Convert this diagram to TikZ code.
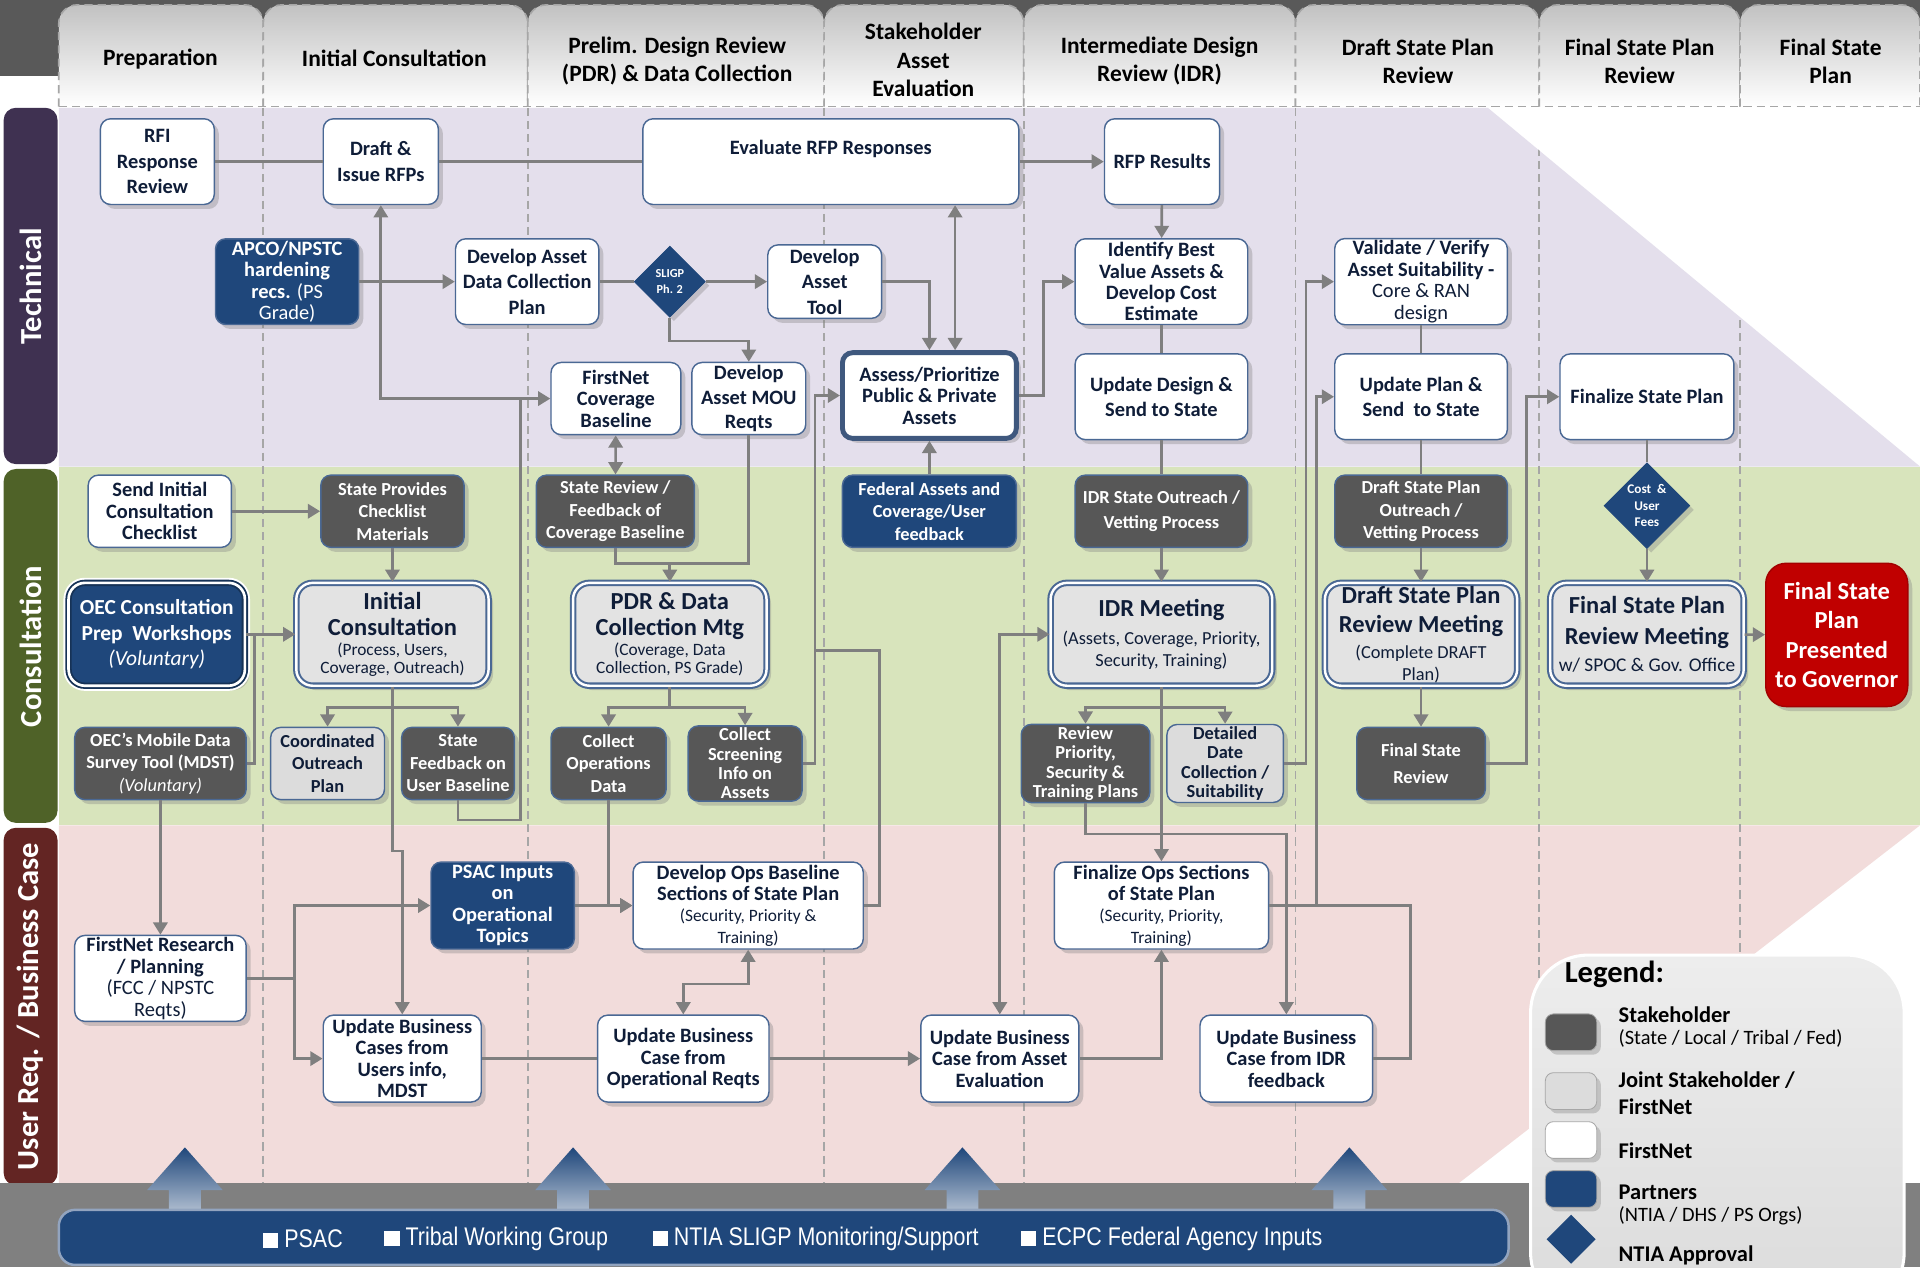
\documentclass[tikz,border=0pt]{standalone}
\usepackage{fontspec}
\setmainfont{Carlito}
\newfontfamily\barfont[FakeStretch=0.84]{Liberation Sans}
\usepackage{tikz}
\usetikzlibrary{arrows.meta,shapes.geometric,shadows}

\definecolor{fntext}{HTML}{0F1D38}
\definecolor{boxline}{HTML}{4A6894}
\definecolor{shfill}{HTML}{575757}
\definecolor{jtfill}{HTML}{DCDCDC}
\definecolor{ptfill}{HTML}{1F477B}
\definecolor{techbg}{HTML}{E4DFEC}
\definecolor{techbar}{HTML}{3F3151}
\definecolor{consbg}{HTML}{D8E4BC}
\definecolor{consbar}{HTML}{4F6228}
\definecolor{userbg}{HTML}{F2DCDB}
\definecolor{userbar}{HTML}{632523}
\definecolor{govred}{HTML}{C00000}
\definecolor{conn}{HTML}{7F7F7F}
\definecolor{sepline}{HTML}{A6A6A6}

\newcommand{\mtgtitle}{\fontsize{12}{13}\selectfont\bfseries}
\newcommand{\subline}{\fontsize{8.5}{9}\selectfont\mdseries}

\begin{document}
\begin{tikzpicture}[x=0.6pt,y=-0.6pt,>={Triangle[length=6pt,width=7pt]},
    card/.style={rectangle,rounded corners=5pt,align=center,inner sep=1pt,line width=0.7pt,
      draw=boxline,drop shadow={shadow xshift=2.2pt,shadow yshift=-2.2pt,opacity=.35}},
    fn node/.style={card,fill=white,text=fntext,font=\fontsize{10}{10.5}\selectfont\bfseries},
    sh node/.style={card,fill=shfill,text=white,font=\fontsize{9}{11}\selectfont\bfseries},
    jt node/.style={card,fill=jtfill,text=fntext,font=\fontsize{9}{11}\selectfont\bfseries},
    pt node/.style={card,fill=ptfill,text=white,font=\fontsize{9}{11}\selectfont\bfseries},
    mtg node/.style={card,fill=jtfill!80!white,text=fntext,rounded corners=8pt,line width=1pt,
      double=white,double distance=1.2pt,font=\fontsize{8.5}{8.5}\selectfont},
    gov node/.style={card,rounded corners=10pt,fill=govred,draw=govred!85!black,text=white,
      font=\fontsize{12}{14.4}\selectfont\bfseries},
    ok node/.style={diamond,aspect=1,fill=ptfill,draw=ptfill,text=white,inner sep=0pt,align=center,
      drop shadow={shadow xshift=2pt,shadow yshift=-2pt,opacity=.35}},
    box size/.style 2 args={minimum width=#1*0.6pt,minimum height=#2*0.6pt},
    link/.style={draw=conn,line width=1.3pt},
    sepdash/.style={draw=sepline,line width=0.8pt,dash pattern=on 4pt off 2.5pt},
    phase/.style={align=center,text=black,font=\fontsize{11.5}{14}\selectfont\bfseries},
    lane label/.style={rotate=90,text=white,font=\fontsize{15}{15}\selectfont\bfseries},
    bar label/.style={anchor=west,text=white,font=\barfont\fontsize{12.5}{14}\selectfont},
    legend text/.style={anchor=west,text=black,font=\fontsize{11}{12}\selectfont\bfseries}]

  \useasboundingbox (0,0) rectangle (1568,1035);
  \clip (0,0) rectangle (1568,1035);
  \fill[white] (0,0) rectangle (1568,1035);
  \fill[black!65] (0,0) rectangle (1568,62);

  \foreach \xa/\xb in {48/215,215/431,431/673,673/836,836/1058,1058/1257,1257/1421,1421/1568} {
    \shade[top color=black!24,bottom color=white,rounded corners=9pt] (\xa,87) -- (\xa,4) -- (\xb,4) -- (\xb,87);
    \draw[sepdash,rounded corners=9pt] (\xa,87) -- (\xa,4) -- (\xb,4) -- (\xb,87);
  }
  \draw[sepdash] (48,87) -- (1568,87);

  \node[phase] (ph1) at (131,48) {Preparation};
  \node[phase] (ph2) at (322,48) {Initial Consultation};
  \node[phase] (ph3) at (553,50) {Prelim. Design Review\\(PDR) \& Data Collection};
  \node[phase] (ph4) at (754,49) {Stakeholder\\Asset\\Evaluation};
  \node[phase] (ph5) at (947,50) {Intermediate Design\\Review (IDR)};
  \node[phase] (ph6) at (1158,50) {Draft State Plan\\Review};
  \node[phase] (ph7) at (1339,50) {Final State Plan\\Review};
  \node[phase] (ph8) at (1495,50) {Final State\\Plan};

  \fill[techbg] (48,88) -- (1215,88) -- (1568,381) -- (48,381) -- cycle;
  \fill[consbg] (48,381) rectangle (1568,674);
  \fill[userbg] (48,674) -- (1568,674) -- (1189,968) -- (48,968) -- cycle;
  \begin{scope}
    \clip (48,88) -- (1215,88) -- (1568,381) -- (1568,674) -- (1189,968) -- (48,968) -- cycle;
    \foreach \sx in {215,431,673,836,1058,1257,1421}
      \draw[sepdash] (\sx,88) -- (\sx,968);
  \end{scope}

  \fill[techbar,rounded corners=6pt] (3,88) rectangle (47,379);
  \fill[consbar,rounded corners=6pt] (3,383) rectangle (47,672);
  \fill[userbar,rounded corners=6pt] (3,676) rectangle (47,968);
  \node[lane label] (techlbl) at (25,234) {Technical};
  \node[lane label] (conslbl) at (25,528) {Consultation};
  \node[lane label] (userlbl) at (25,822) {User Req. / Business Case};

  \fill[black!50] (0,966) rectangle (1568,1035);
  \foreach \ax in {151,468,786,1102}
    \shade[top color=ptfill,bottom color=ptfill!35!white]
      (\ax-13,990) -- (\ax-13,972) -- (\ax-31,972) -- (\ax,937) -- (\ax+31,972) -- (\ax+13,972) -- (\ax+13,990) -- cycle;
  \draw[fill=ptfill,draw=boxline!60!white,line width=1.2pt,rounded corners=8pt] (48,988) rectangle (1232,1033);
  \node[bar label] (inpsac) at (209,1012) {\rule{0.6em}{0.6em}\ PSAC};
  \node[bar label] (intribal) at (308,1012) {\rule{0.6em}{0.6em}\ Tribal Working Group};
  \node[bar label] (inntia) at (527,1012) {\rule{0.6em}{0.6em}\ NTIA SLIGP Monitoring/Support};
  \node[bar label] (inecpc) at (828,1012) {\rule{0.6em}{0.6em}\ ECPC Federal Agency Inputs};

  \node[fn node, box size={93}{70}, font=\fontsize{10}{12.5}\selectfont\bfseries] (rfi) at (128.5,132) {RFI\\Response\\Review};
  \node[fn node, box size={94}{70}, font=\fontsize{10}{12.5}\selectfont\bfseries] (draft) at (311,132) {Draft \&\\Issue RFPs};
  \node[fn node, box size={307}{70}, text depth=14pt] (eval) at (678.5,132) {Evaluate RFP Responses};
  \node[fn node, box size={94}{70}] (rfpres) at (949,132) {RFP Results};
  \node[pt node, box size={117}{70}, font=\fontsize{10}{10.5}\selectfont\bfseries] (apco) at (234.5,230) {APCO/NPSTC\\hardening\\recs. {\mdseries(PS}\\\mdseries Grade)};
  \node[fn node, box size={117}{70}, font=\fontsize{10}{12.5}\selectfont\bfseries] (devplan) at (430.5,230) {Develop Asset\\Data Collection\\Plan};
  \node[ok node, minimum size=58*0.6pt, font=\fontsize{6}{7.5}\selectfont\bfseries] (sligp) at (547,230) {SLIGP\\Ph. 2};
  \node[fn node, box size={93}{60}, font=\fontsize{10}{12.5}\selectfont\bfseries] (devtool) at (673.5,230) {Develop\\Asset\\Tool};
  \node[fn node, box size={142}{70}, line width=2.4pt, draw=boxline!85!black] (assess) at (759,323) {Assess/Prioritize\\Public \& Private\\Assets};
  \node[fn node, box size={141}{70}] (identify) at (948.5,230) {Identify Best\\Value Assets \&\\Develop Cost\\Estimate};
  \node[fn node, box size={141}{70}, font=\fontsize{10}{12.5}\selectfont\bfseries] (upddesign) at (948.5,324) {Update Design \&\\Send to State};
  \node[fn node, box size={106}{59}] (fncov) at (503,325.5) {FirstNet\\Coverage\\Baseline};
  \node[fn node, box size={93}{59}, font=\fontsize{10}{12}\selectfont\bfseries] (mou) at (611.5,325.5) {Develop\\Asset MOU\\Reqts};
  \node[fn node, box size={141}{70}] (validate) at (1160.5,230) {Validate / Verify\\Asset Suitability -\\\mdseries Core \& RAN\\\mdseries design};
  \node[fn node, box size={141}{70}, font=\fontsize{10}{12.5}\selectfont\bfseries] (updplan) at (1160.5,324) {Update Plan \&\\Send\ \ to State};
  \node[fn node, box size={142}{70}] (finalize) at (1345,324) {Finalize State Plan};

  \node[fn node, box size={117}{59}] (sendinit) at (130.5,417.5) {Send Initial\\Consultation\\Checklist};
  \node[sh node, box size={117}{59}] (stateprov) at (320.5,417.5) {State Provides\\Checklist\\Materials};
  \node[sh node, box size={129}{59}] (statereview) at (502.5,417.5) {State Review /\\Feedback of\\Coverage Baseline};
  \node[pt node, box size={142}{59}] (fedassets) at (759,417.5) {Federal Assets and\\Coverage/User\\feedback};
  \node[sh node, box size={141}{59}, font=\fontsize{9}{12}\selectfont\bfseries] (idrout) at (948.5,417.5) {IDR State Outreach /\\Vetting Process};
  \node[sh node, box size={141}{59}] (draftout) at (1160.5,417.5) {Draft State Plan\\Outreach /\\Vetting Process};
  \node[ok node, minimum size=70*0.6pt, font=\fontsize{6.5}{8}\selectfont\bfseries] (costfees) at (1345,413) {Cost\ \ \&\\User\\Fees};
  \node[pt node, box size={144}{84}, font=\fontsize{10.5}{12.6}\selectfont\bfseries, rounded corners=8pt, line width=0.9pt,
        draw=ptfill!70!black, double=white, double distance=1.3pt,
        preaction={draw=white,line width=5pt}] (oec) at (128,518) {OEC Consultation\\Prep\ \ Workshops\\\mdseries\itshape (Voluntary)};
  \node[mtg node, box size={157}{84}] (initcons) at (320.5,518) {\mtgtitle Initial\\[3pt]\mtgtitle Consultation\\[1.5pt]\subline (Process, Users,\\\subline Coverage, Outreach)};
  \node[mtg node, box size={158}{84}] (pdrmtg) at (547,518) {\mtgtitle PDR \& Data\\[3pt]\mtgtitle Collection Mtg\\[1.5pt]\subline (Coverage, Data\\\subline Collection, PS Grade)};
  \node[mtg node, box size={181}{84}] (idrmtg) at (948.5,518) {\mtgtitle IDR Meeting\\[4pt]\fontsize{9}{9}\selectfont\mdseries (Assets, Coverage, Priority,\\[2.5pt]\fontsize{9}{9}\selectfont\mdseries Security, Training)};
  \node[mtg node, box size={157}{84}] (draftmtg) at (1160.5,518) {\mtgtitle Draft State Plan\\[5pt]\mtgtitle Review Meeting\\[3pt]\fontsize{9}{9}\selectfont\mdseries (Complete DRAFT\\[2pt]\fontsize{9}{9}\selectfont\mdseries Plan)};
  \node[mtg node, box size={158}{84}] (finalmtg) at (1345,518) {\mtgtitle Final State Plan\\[5.5pt]\mtgtitle Review Meeting\\[3.5pt]\fontsize{9.5}{10}\selectfont\mdseries w/ SPOC \& Gov. Office};
  \node[gov node, box size={116}{117}] (govbox) at (1500,518.5) {Final State\\Plan\\Presented\\to Governor};
  \node[sh node, box size={140}{59}] (mdst) at (131,623.5) {OEC’s Mobile Data\\Survey Tool (MDST)\\\mdseries\itshape (Voluntary)};
  \node[jt node, box size={93}{59}] (coordout) at (267.5,623.5) {Coordinated\\Outreach\\Plan};
  \node[sh node, box size={92}{59}] (statefb) at (374,623.5) {State\\Feedback on\\User Baseline};
  \node[sh node, box size={94}{59}] (collops) at (497,623.5) {Collect\\Operations\\Data};
  \node[sh node, box size={93}{59}, font=\fontsize{9}{9.5}\selectfont\bfseries] (collscr) at (608.5,623.5) {Collect\\Screening\\Info on\\Assets};
  \node[sh node, box size={105}{59}, font=\fontsize{9}{9.5}\selectfont\bfseries] (reviewpri) at (886.5,623.5) {Review\\Priority,\\Security \&\\Training Plans};
  \node[jt node, box size={95}{59}, font=\fontsize{9}{9.5}\selectfont\bfseries] (detailed) at (1000.5,623.5) {Detailed\\Date\\Collection /\\Suitability};
  \node[sh node, box size={105}{59}, font=\fontsize{9}{13}\selectfont\bfseries] (finalrev) at (1160.5,623.5) {Final State\\Review};

  \node[fn node, box size={140}{70}] (fnresearch) at (131,799) {FirstNet Research\\/ Planning\\\mdseries (FCC / NPSTC\\\mdseries Reqts)};
  \node[pt node, box size={117}{71}, font=\fontsize{10}{10.5}\selectfont\bfseries] (psac) at (410.5,739.5) {PSAC Inputs\\on\\Operational\\Topics};
  \node[fn node, box size={188}{71}] (devops) at (611,739.5) {Develop Ops Baseline\\Sections of State Plan\\\subline (Security, Priority \&\\\subline Training)};
  \node[fn node, box size={175}{71}] (finops) at (948.5,739.5) {Finalize Ops Sections\\of State Plan\\\subline (Security, Priority,\\\subline Training)};
  \node[fn node, box size={129}{71}] (updbc1) at (328.5,864.5) {Update Business\\Cases from\\Users info,\\MDST};
  \node[fn node, box size={140}{71}] (updbc2) at (558,864.5) {Update Business\\Case from\\Operational Reqts};
  \node[fn node, box size={129}{71}] (updbc3) at (816.5,864.5) {Update Business\\Case from Asset\\Evaluation};
  \node[fn node, box size={141}{71}] (updbc4) at (1050.5,864.5) {Update Business\\Case from IDR\\feedback};

  \coordinate (ea) at (780,0);
  \coordinate (fnj) at (425,325.5);
  \coordinate (pdrin) at (547,460);
  \coordinate (oecj) at (208,518);
  \coordinate (icj) at (320.5,578);
  \coordinate (pdj) at (547,578);
  \coordinate (idj) at (948.5,578);
  \coordinate (dvj) at (718,531);
  \coordinate (csj) at (665,531);
  \coordinate (fpj) at (1075,739.5);
  \coordinate (bcj) at (1152,739.5);

  \draw[link] (rfi) -- (draft);
  \draw[link] (draft) -- (eval);
  \draw[link,->] (eval) -- (rfpres);
  \draw[link,->] (rfpres) -- (identify);
  \draw[link] (identify) -- (upddesign);
  \draw[link] (upddesign) -- (idrout);
  \draw[link,->] (idrout) -- (idrmtg);
  \draw[link,->] (apco) -- (devplan);
  \draw[link] (devplan) -- (sligp);
  \draw[link,->] (sligp) -- (devtool);
  \draw[link,->] (sligp.south) -- ++(0,19) -| (mou.north);
  \draw[link,->] (devtool.east) -| (assess.north);
  \draw[link,<->] (eval.south -| ea) -- (assess.north -| ea);
  \draw[link,->] (assess.east) -- ++(20,0) |- (identify.west);
  \draw[link,->] (fedassets) -- (assess);
  \draw[link,<->] (fncov) -- (statereview);
  \draw[link] (statereview.south) |- (pdrin);
  \draw[link] (mou.south) |- (pdrin);
  \draw[link,->] (pdrin) -- (pdrmtg.north);
  \draw[link,->] (sendinit) -- (stateprov);
  \draw[link,->] (stateprov) -- (initcons);
  \draw[link,->] (oec) -- (initcons);
  \draw[link] (mdst.east) -| (oecj);
  \draw[link] (initcons.south) -- (icj);
  \draw[link,->] (icj) -| (coordout.north);
  \draw[link,->] (icj) -| (statefb.north);
  \draw[link,->] (initcons.south) -- ++(0,134) -| (updbc1.north);
  \draw[link] (pdrmtg.south) -- (pdj);
  \draw[link,->] (pdj) -| (collops.north);
  \draw[link,->] (pdj) -| (collscr.north);
  \draw[link,->] (statefb.south) -- ++(0,16) -| (fnj) -- (fncov.west);
  \draw[link,->] (fnj) -| (draft.south);
  \draw[link,->] (collops.south) |- (devops.west);
  \draw[link,->] (psac) -- (devops);
  \draw[link,->] (collscr.east) -- ++(10,0) |- (assess.west);
  \draw[link] (devops.east) -| (dvj) -- (csj);
  \draw[link,<->] (devops.south) -- ++(0,28) -| (updbc2.north);
  \draw[link,->] (mdst) -- (fnresearch);
  \draw[link,->] (fnresearch.east) -- ++(39,0) |- (psac.west);
  \draw[link,->] (fnresearch.east) -- ++(39,0) |- (updbc1.west);
  \draw[link] (updbc1) -- (updbc2);
  \draw[link,->] (updbc2) -- (updbc3);
  \draw[link,->] (updbc3.east) -| (finops.south);
  \draw[link,<->] (updbc3.north) |- (idrmtg.west);
  \draw[link,->] (idrmtg) -- (finops);
  \draw[link,->] (idj) -| (reviewpri.north);
  \draw[link,->] (idj) -| (detailed.north);
  \draw[link,->] (reviewpri.south) -- ++(0,25) -| (updbc4.north);
  \draw[link,->] (detailed.east) -- ++(18,0) |- (validate.west);
  \draw[link,->] (finops.east) -- (fpj) |- (updplan.west);
  \draw[link] (updbc4.east) -| (bcj) -- (fpj);
  \draw[link] (validate) -- (updplan);
  \draw[link] (updplan) -- (draftout);
  \draw[link,->] (draftout) -- (draftmtg);
  \draw[link,->] (draftmtg) -- (finalrev);
  \draw[link,->] (finalrev.east) -- ++(33,0) |- (finalize.west);
  \draw[link] (finalize) -- (costfees);
  \draw[link,->] (costfees) -- (finalmtg);
  \draw[link,->] (finalmtg) -- (govbox);

  \shadedraw[top color=black!7,bottom color=black!14,draw=white,line width=1.5pt,rounded corners=28pt] (1250,780) rectangle (1555,1070);
  \draw[fill=shfill,draw=black!35,rounded corners=4pt,drop shadow={shadow xshift=2pt,shadow yshift=-2pt,opacity=.35}] (1262,828) rectangle (1304,858);
  \draw[fill=jtfill,draw=black!35,rounded corners=4pt,drop shadow={shadow xshift=2pt,shadow yshift=-2pt,opacity=.35}] (1262,876) rectangle (1304,906);
  \draw[fill=white,draw=black!35,rounded corners=4pt,drop shadow={shadow xshift=2pt,shadow yshift=-2pt,opacity=.35}] (1262,916) rectangle (1304,946);
  \draw[fill=ptfill,draw=black!35,rounded corners=4pt,drop shadow={shadow xshift=2pt,shadow yshift=-2pt,opacity=.35}] (1262,956) rectangle (1304,986);
  \fill[ptfill] (1283,992) -- (1303,1012) -- (1283,1032) -- (1263,1012) -- cycle;
  \node[legend text, font=\fontsize{15}{16}\selectfont\bfseries] (lgtitle) at (1272,796) {Legend:};
  \node[legend text] (lg1) at (1316,829) {Stakeholder};
  \node[legend text, font=\fontsize{10}{11}\selectfont] (lg1s) at (1316,848) {(State / Local / Tribal / Fed)};
  \node[legend text] (lg2) at (1316,882) {Joint Stakeholder /};
  \node[legend text] (lg2s) at (1316,904) {FirstNet};
  \node[legend text] (lg3) at (1316,940) {FirstNet};
  \node[legend text] (lg4) at (1316,974) {Partners};
  \node[legend text, font=\fontsize{10}{11}\selectfont] (lg4s) at (1316,993) {(NTIA / DHS / PS Orgs)};
  \node[legend text] (lg5) at (1316,1025) {NTIA Approval};
\end{tikzpicture}
\end{document}
